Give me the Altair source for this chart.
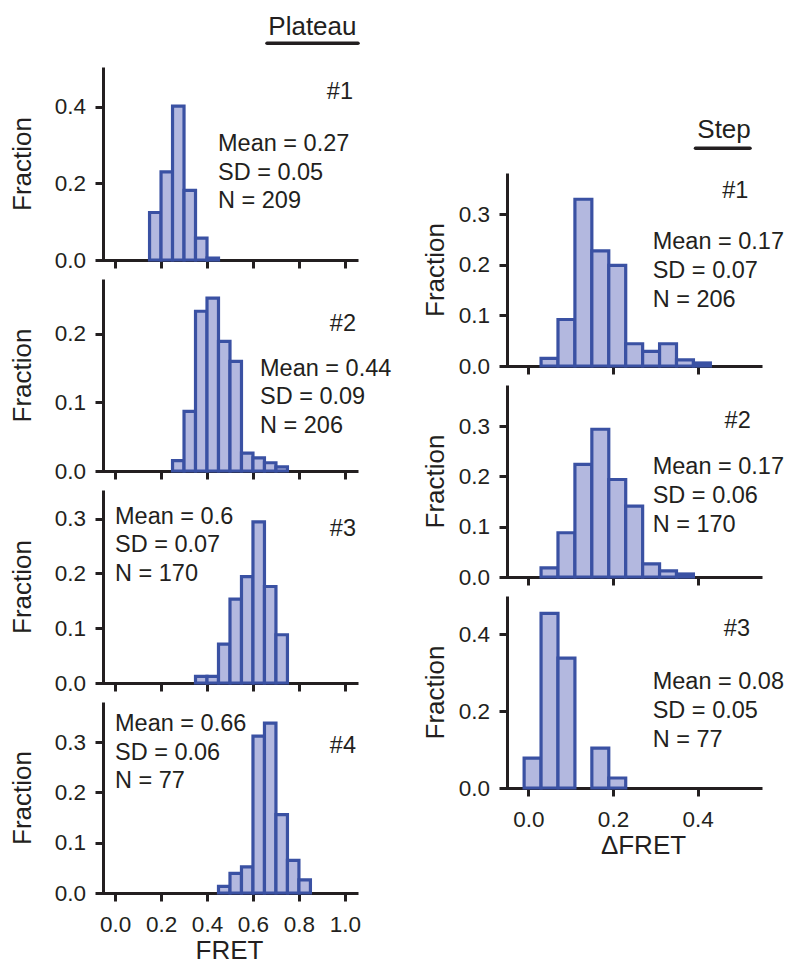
import altair as alt
import pandas as pd

FONT = "Liberation Sans"
INK = "#231f20"
BAR_FILL = "#b3b8df"
BAR_STROKE = "#3a51a3"

# ---------------- data ----------------
plateau_bin_width = 0.05
plateau_starts = [
    [0.15, 0.20, 0.25, 0.30, 0.35, 0.40],
    [0.25, 0.30, 0.35, 0.40, 0.45, 0.50, 0.55, 0.60, 0.65, 0.70],
    [0.35, 0.40, 0.45, 0.50, 0.55, 0.60, 0.65, 0.70],
    [0.45, 0.50, 0.55, 0.60, 0.65, 0.70, 0.75, 0.80],
]
plateau_frac = [
    [0.124, 0.230, 0.402, 0.182, 0.057, 0.005],
    [0.015, 0.087, 0.233, 0.252, 0.189, 0.160, 0.026, 0.019, 0.012, 0.006],
    [0.012, 0.012, 0.071, 0.153, 0.194, 0.294, 0.176, 0.088],
    [0.013, 0.039, 0.052, 0.312, 0.338, 0.156, 0.065, 0.026],
]
plateau_ymax = [0.504, 0.28, 0.352, 0.38]
plateau_yticks = [[0, 0.2, 0.4], [0, 0.1, 0.2], [0, 0.1, 0.2, 0.3], [0, 0.1, 0.2, 0.3]]
plateau_ids = ["#1", "#2", "#3", "#4"]
plateau_mean = ["0.27", "0.44", "0.6", "0.66"]
plateau_sd = ["0.05", "0.09", "0.07", "0.06"]
plateau_n = ["209", "206", "170", "77"]
plateau_xticks = [0.0, 0.2, 0.4, 0.6, 0.8, 1.0]
plateau_xdomain = [-0.083, 1.057]

step_bin_width = 0.04
step_starts = [
    [0.03, 0.07, 0.11, 0.15, 0.19, 0.23, 0.27, 0.31, 0.35, 0.39],
    [0.03, 0.07, 0.11, 0.15, 0.19, 0.23, 0.27, 0.31, 0.35],
    [-0.01, 0.03, 0.07, 0.15, 0.19],
]
step_frac = [
    [0.015, 0.092, 0.330, 0.228, 0.199, 0.044, 0.029, 0.044, 0.012, 0.006],
    [0.018, 0.088, 0.224, 0.294, 0.194, 0.141, 0.026, 0.012, 0.006],
    [0.078, 0.455, 0.338, 0.104, 0.026],
]
step_ymax = [0.382, 0.382, 0.5]
step_yticks = [[0, 0.1, 0.2, 0.3], [0, 0.1, 0.2, 0.3], [0, 0.2, 0.4]]
step_ids = ["#1", "#2", "#3"]
step_mean = ["0.17", "0.17", "0.08"]
step_sd = ["0.07", "0.06", "0.05"]
step_n = ["206", "170", "77"]
step_xticks = [0.0, 0.2, 0.4]
step_xdomain = [-0.067, 0.552]

# ---------------- layout (pixels) ----------------
PANEL_W = 262
plateau_heights = [193, 192, 193, 191]
step_heights = [193, 192, 192]
# (id label x right-aligned, id baseline y, stats x, first stats baseline y)
plateau_text_pos = [(257, 32, 122, 84), (260, 52, 164, 96.5), (260, 46, 19, 33.5), (260, 50.7, 19, 29)]
step_text_pos = [(248.3, 25.3, 152.7, 76.3), (250.7, 43.3, 152.7, 89.3), (250, 40, 152.7, 93.3)]
LINE_H = 28.6


def panel(starts, fracs, binw, xdom, xticks, ymax, yticks, height, tpos, ident, mean, sd, n,
          show_x, xtitle, title_x, ytitle_pad):
    df = pd.DataFrame({
        "x0": starts,
        "x1": [s + binw for s in starts],
        "f": fracs,
        "base": [0.0] * len(starts),
    })
    if show_x:
        xaxis = alt.Axis(values=xticks, format=".1f", title=xtitle, labelPadding=12,
                         titlePadding=2, titleX=title_x)
    else:
        xaxis = alt.Axis(values=xticks, labels=False, title=None)
    yaxis = alt.Axis(values=yticks, format=".1f", title="Fraction", offset=-7,
                     labelPadding=9.5, titlePadding=ytitle_pad)
    bars = alt.Chart(df).mark_rect(fill=BAR_FILL, stroke=BAR_STROKE, strokeWidth=3.2).encode(
        x=alt.X("x0:Q", scale=alt.Scale(domain=xdom, nice=False, zero=False), axis=xaxis),
        x2="x1:Q",
        y=alt.Y("f:Q", scale=alt.Scale(domain=[0, ymax], nice=False), axis=yaxis),
        y2="base:Q",
    )
    idx, idy, sx, sy = tpos
    layers = [bars]
    layers.append(
        alt.Chart(pd.DataFrame({"t": [ident]})).mark_text(
            align="right", baseline="alphabetic", font=FONT, fontSize=23.5, color=INK
        ).encode(text="t:N", x=alt.value(idx), y=alt.value(idy))
    )
    lines = [f"Mean = {mean}", f"SD = {sd}", f"N = {n}"]
    for i, line in enumerate(lines):
        layers.append(
            alt.Chart(pd.DataFrame({"t": [line]})).mark_text(
                align="left", baseline="alphabetic", font=FONT, fontSize=23.5, color=INK
            ).encode(text="t:N", x=alt.value(sx), y=alt.value(sy + i * LINE_H))
        )
    return alt.layer(*layers).properties(width=PANEL_W, height=height)


def header(title, height, tx, ty, ux1, ux2, uy):
    t = alt.Chart(pd.DataFrame({"t": [title]})).mark_text(
        align="left", baseline="alphabetic", font=FONT, fontSize=26, color=INK
    ).encode(text="t:N", x=alt.value(tx), y=alt.value(ty))
    r = alt.Chart(pd.DataFrame({"t": [title]})).mark_rule(
        color=INK, strokeWidth=3.5, strokeCap="round"
    ).encode(x=alt.value(ux1), x2=alt.value(ux2), y=alt.value(uy))
    return alt.layer(t, r).properties(width=PANEL_W, height=height)


left_panels = [header("Plateau", 48, 172.3, 35, 171, 262, 43.3)]
for i in range(4):
    left_panels.append(panel(
        plateau_starts[i], plateau_frac[i], plateau_bin_width, plateau_xdomain, plateau_xticks,
        plateau_ymax[i], plateau_yticks[i], plateau_heights[i], plateau_text_pos[i],
        plateau_ids[i], plateau_mean[i], plateau_sd[i], plateau_n[i],
        i == 3, "FRET", 133, 19,
    ))

right_panels = [header("Step", 154, 197.3, 137.5, 195.5, 250, 148.3)]
for i in range(3):
    right_panels.append(panel(
        step_starts[i], step_frac[i], step_bin_width, step_xdomain, step_xticks,
        step_ymax[i], step_yticks[i], step_heights[i], step_text_pos[i],
        step_ids[i], step_mean[i], step_sd[i], step_n[i],
        i == 2, "ΔFRET", 143, 10,
    ))

left = alt.vconcat(*left_panels, spacing=19, bounds="flush")
right = alt.vconcat(*right_panels, spacing=19, bounds="flush")

chart = alt.hconcat(left, right, spacing=404, bounds="flush").properties(
    padding={"left": 9, "top": 0, "right": 0, "bottom": 0},
    background="white",
).configure_view(stroke=None).configure_axis(
    labelFont=FONT, titleFont=FONT, labelColor=INK, titleColor=INK,
    domainColor=INK, tickColor=INK, domainWidth=3, tickWidth=3, tickSize=8,
    grid=False, labelFontSize=22.5, titleFontSize=26, titleFontWeight="normal", zindex=1,
)

chart.save("out.html", embed_options={"renderer": "svg", "actions": False})
